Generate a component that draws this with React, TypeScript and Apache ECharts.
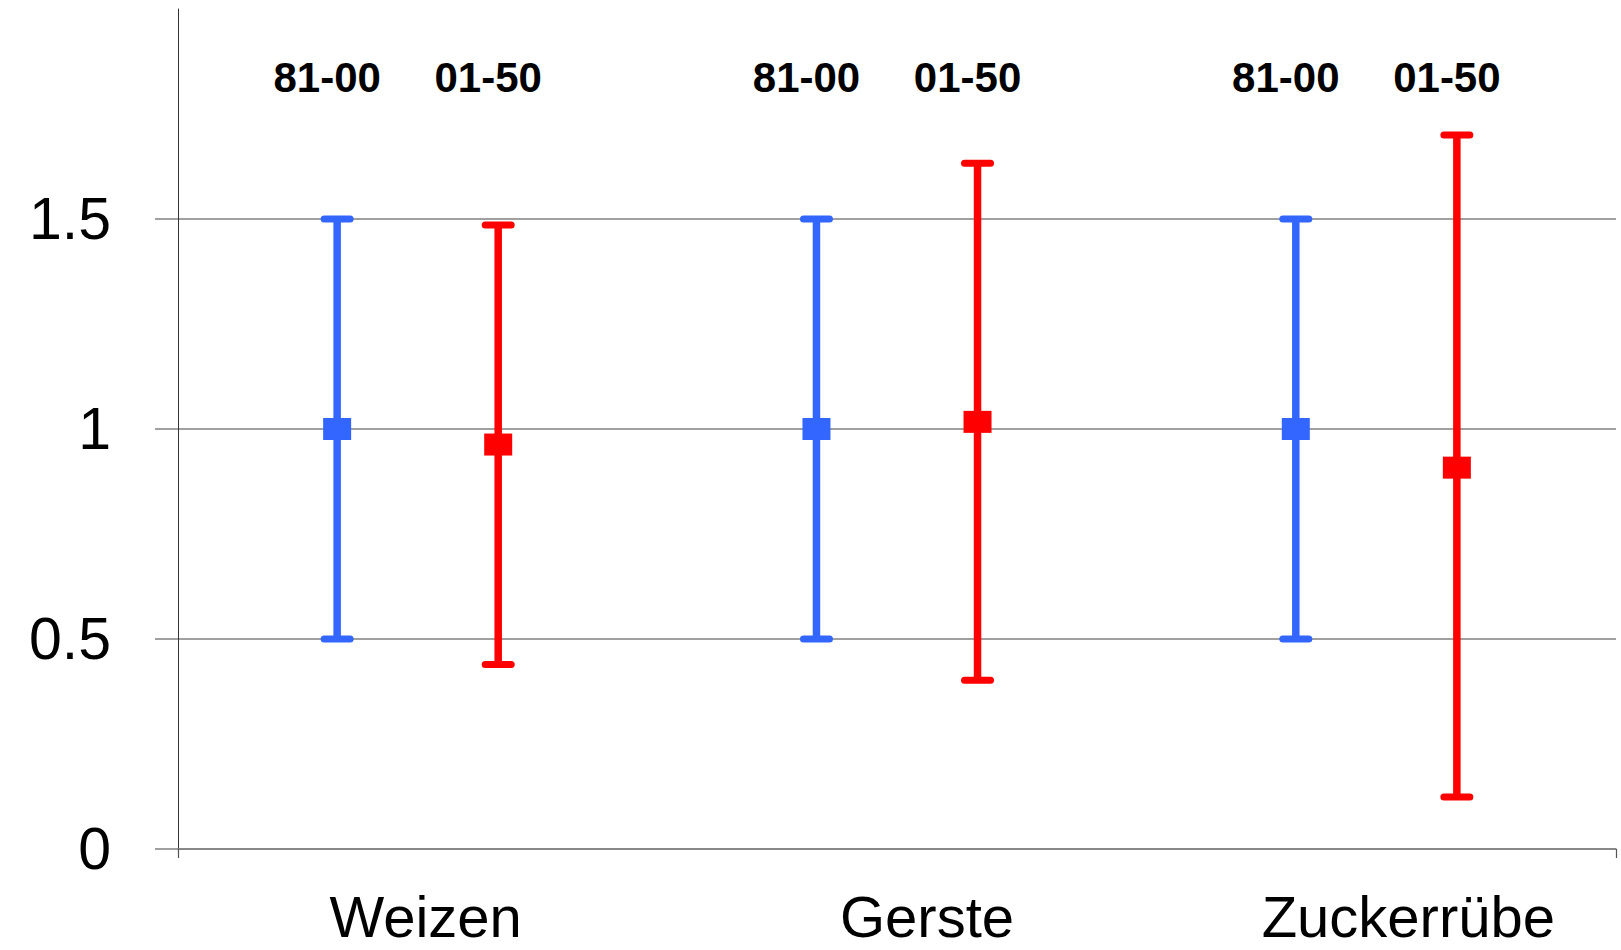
import React, { useEffect, useRef } from 'react';
import * as echarts from 'echarts';

// ---- data ----
const categories = ['Weizen', 'Gerste', 'Zuckerrübe'];
const periods = ['81-00', '01-50'];
const mean8100 = [1.0, 1.0, 1.0];
const low8100 = [0.5, 0.5, 0.5];
const high8100 = [1.5, 1.5, 1.5];
const mean0150 = [0.963, 1.017, 0.908];
const low0150 = [0.439, 0.402, 0.124];
const high0150 = [1.486, 1.633, 1.7];
const yTicks = [0, 0.5, 1, 1.5];

// ---- style ----
const FONT = '"Liberation Sans", Arial, Helvetica, sans-serif';
const BLUE = '#3366FF';
const RED = '#FF0000';
const COLORS = [BLUE, RED];
const LABEL_Y = 1.837;

function buildData(means: number[], lows: number[], highs: number[]) {
  return categories.map((_, i) => [i, means[i], lows[i], highs[i]]);
}

function renderItem(params: any, api: any) {
  const si = params.seriesIndex;
  const color = COLORS[si];
  const cat = api.value(0);
  const mean = api.value(1);
  const low = api.value(2);
  const high = api.value(3);
  const band = api.size([1, 0])[0];
  const off = (si === 0 ? -1 : 1) * band * 0.168;
  const pm = api.coord([cat, mean]);
  const pl = api.coord([cat, low]);
  const ph = api.coord([cat, high]);
  const pt = api.coord([cat, LABEL_Y]);
  const cx = pm[0] + off;
  const capHalf = 13;
  return {
    type: 'group',
    children: [
      {
        type: 'line',
        shape: { x1: cx, y1: ph[1], x2: cx, y2: pl[1] },
        style: { stroke: color, lineWidth: 7.5 },
      },
      {
        type: 'line',
        shape: { x1: cx - capHalf, y1: ph[1], x2: cx + capHalf, y2: ph[1] },
        style: { stroke: color, lineWidth: 7, lineCap: 'round' },
      },
      {
        type: 'line',
        shape: { x1: cx - capHalf, y1: pl[1], x2: cx + capHalf, y2: pl[1] },
        style: { stroke: color, lineWidth: 7, lineCap: 'round' },
      },
      {
        type: 'rect',
        shape: { x: cx - 14, y: pm[1] - 11, width: 28, height: 22 },
        style: { fill: color },
      },
      {
        type: 'text',
        x: cx - 10,
        y: pt[1],
        style: {
          text: periods[si],
          fontSize: 42,
          fontWeight: 'bold',
          fontFamily: FONT,
          fill: '#000',
          align: 'center',
          verticalAlign: 'middle',
        },
      },
    ],
  };
}

const labelShift = [16, 60, 64];

export default function App() {
  const ref = useRef<HTMLDivElement>(null);
  useEffect(() => {
    if (!ref.current) return;
    const chart = echarts.init(ref.current, undefined, { renderer: 'svg' });
    const richBase = { fontSize: 58, fontFamily: FONT, color: '#000', lineHeight: 44 };
    const option: any = {
      animation: false,
      backgroundColor: '#ffffff',
      grid: { left: 178, right: 5, top: 9, bottom: 101, containLabel: false, outerBoundsMode: 'none' },
      xAxis: [
        {
          type: 'category',
          data: categories,
          boundaryGap: true,
          position: 'bottom',
          axisLine: { show: true, lineStyle: { color: '#808080', width: 1.5 } },
          axisTick: { show: false },
          splitLine: { show: false },
          axisLabel: {
            interval: 0,
            hideOverlap: false,
            margin: 45,
            fontSize: 58,
            lineHeight: 44,
            fontFamily: FONT,
            color: '#000',
            formatter: (v: string) => {
              const i = categories.indexOf(v);
              return `{c${i}|${v}}`;
            },
            rich: {
              c0: { ...richBase, padding: [0, 0, 0, labelShift[0]] },
              c1: { ...richBase, padding: [0, 0, 0, labelShift[1]] },
              c2: { ...richBase, padding: [0, 0, 0, labelShift[2]] },
            },
          },
        },
        {
          type: 'value',
          min: 0,
          max: 1,
          interval: 1,
          position: 'bottom',
          axisLine: { show: false },
          axisLabel: { show: false },
          splitLine: { show: false },
          axisTick: { show: true, length: 9, lineStyle: { color: '#555', width: 1.2 } },
        },
      ],
      yAxis: {
        type: 'value',
        min: 0,
        max: 2,
        interval: 0.5,
        axisLine: { show: true, lineStyle: { color: '#333', width: 1 } },
        axisTick: {
          show: true,
          length: 23,
          customValues: yTicks,
          lineStyle: { color: '#808080', width: 1.5 },
        },
        axisLabel: {
          customValues: yTicks,
          margin: 67,
          fontSize: 59,
          fontFamily: FONT,
          color: '#000',
        },
        splitLine: {
          show: true,
          lineStyle: { color: '#808080', width: 1.5 },
        },
      },
      series: [
        {
          name: periods[0],
          type: 'custom',
          xAxisIndex: 0,
          renderItem,
          encode: { x: 0, y: [1, 2, 3] },
          data: buildData(mean8100, low8100, high8100),
          clip: false,
        },
        {
          name: periods[1],
          type: 'custom',
          xAxisIndex: 0,
          renderItem,
          encode: { x: 0, y: [1, 2, 3] },
          data: buildData(mean0150, low0150, high0150),
          clip: false,
        },
      ],
    };
    chart.setOption(option);
    return () => chart.dispose();
  }, []);
  return (
    <div
      ref={ref}
      style={{ position: 'fixed', left: 0, top: 0, width: 1621, height: 950, background: '#fff' }}
    />
  );
}
